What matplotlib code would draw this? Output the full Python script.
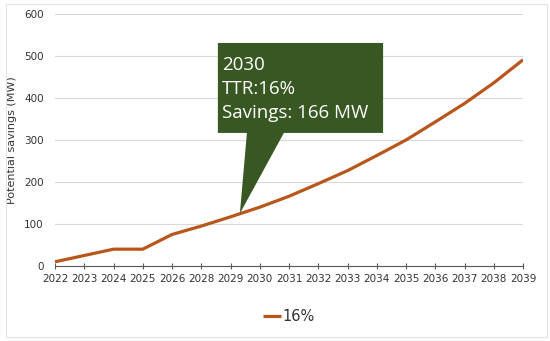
import matplotlib.pyplot as plt
from matplotlib.patches import Polygon, Rectangle

years = ['2022', '2023', '2024', '2025', '2026', '2028', '2029', '2030', '2031',
         '2032', '2033', '2034', '2035', '2036', '2037', '2038', '2039']
savings = [10, 25, 40, 40, 75, 95, 117, 140, 166,
           196, 227, 263, 300, 343, 387, 436, 491]
series_name = '16%'
callout_lines = ['2030', 'TTR:16%', 'Savings: 166 MW']

line_color = '#B9561C'
box_color = '#385723'
text_gray = '#333333'

fig = plt.figure(figsize=(5.5, 3.41), dpi=100)
ax = fig.add_axes([0.1, 0.22, 0.851, 0.739])

x = list(range(len(years)))
ax.plot(x, savings, color=line_color, linewidth=2.3, label=series_name,
        solid_capstyle='butt', zorder=3)

ax.set_xlim(0, len(years) - 1)
ax.set_ylim(0, 600)
ax.set_yticks(range(0, 601, 100))
ax.set_xticks(x)
ax.set_xticklabels(years)
ax.grid(axis='y', color='#D9D9D9', linewidth=0.8)
ax.set_axisbelow(True)
for side in ['top', 'right', 'left']:
    ax.spines[side].set_visible(False)
ax.spines['bottom'].set_color('#595959')
ax.spines['bottom'].set_linewidth(0.8)
ax.tick_params(axis='x', direction='inout', length=5, width=0.8, color='#595959',
               labelsize=7.5, labelcolor=text_gray, pad=3)
ax.tick_params(axis='y', length=0, labelsize=7.5, labelcolor=text_gray, pad=8)
ax.set_ylabel('Potential savings (MW)', fontsize=8, color=text_gray, labelpad=5)

# callout box with pointer to the line
tip = ax.transAxes.inverted().transform(ax.transData.transform((6.32, 125)))
pts = [(0.348, 0.885), (0.701, 0.885), (0.701, 0.528), (0.489, 0.528),
       (tip[0], tip[1]), (0.41, 0.528), (0.348, 0.528)]
ax.add_patch(Polygon(pts, closed=True, transform=ax.transAxes,
                     facecolor=box_color, edgecolor='none', zorder=4))
ax.text(0.357, 0.702, '\n'.join(callout_lines), transform=ax.transAxes,
        color='white', fontsize=13.5, family='Open Sans', va='center', ha='left',
        linespacing=1.45, zorder=5)

leg = ax.legend(loc='upper center', bbox_to_anchor=(0.5, -0.12), frameon=False,
                fontsize=10.5, handlelength=1.2, handletextpad=0.1)
for t in leg.get_texts():
    t.set_color(text_gray)

fig.patches.append(Rectangle((0.01, 0.012), 0.985, 0.975, transform=fig.transFigure,
                             fill=False, edgecolor='#E3E3E3', linewidth=0.8))

fig.savefig('out.png', dpi=100)
